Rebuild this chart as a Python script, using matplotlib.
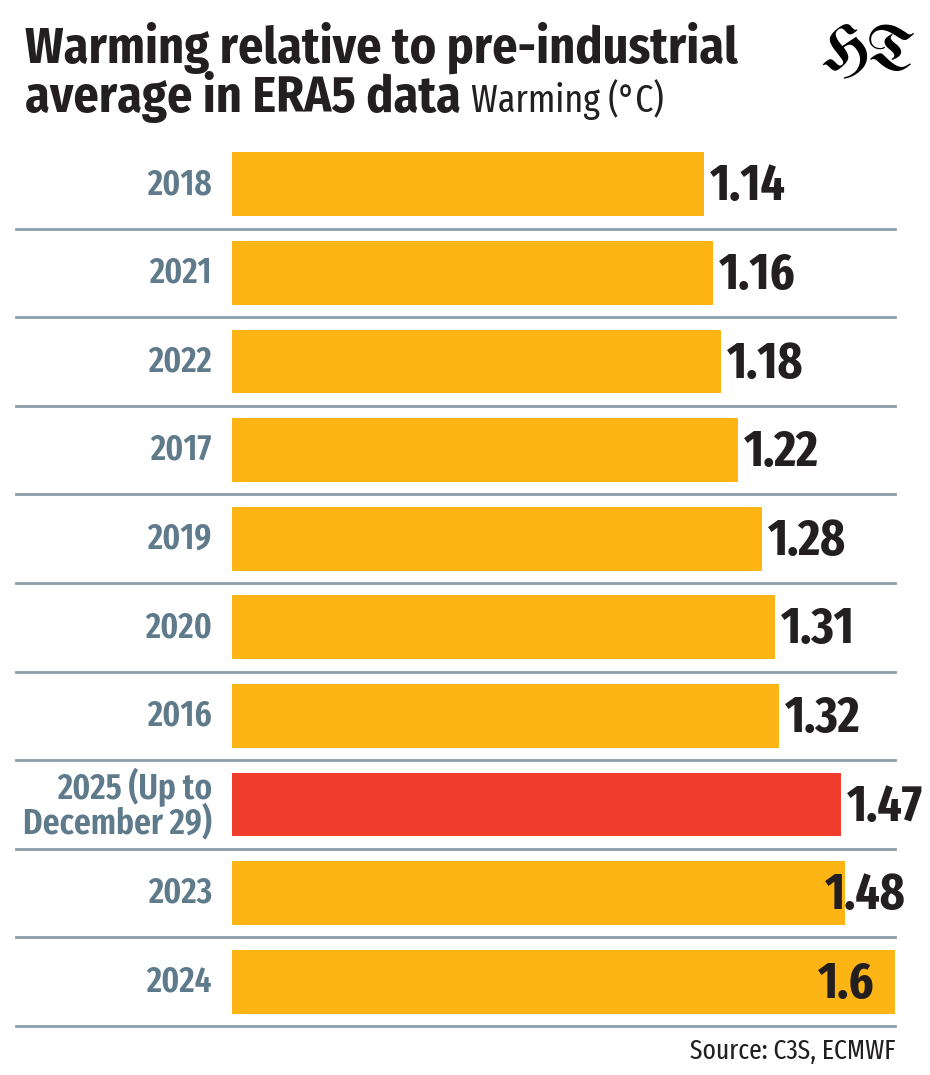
import matplotlib
matplotlib.use("Agg")
import matplotlib.pyplot as plt
from matplotlib.transforms import blended_transform_factory

# data, top to bottom
years = ["2018", "2021", "2022", "2017", "2019", "2020", "2016",
         "2025 (Up to\nDecember 29)", "2023", "2024"]
warming = [1.14, 1.16, 1.18, 1.22, 1.28, 1.31, 1.32, 1.47, 1.48, 1.6]
highlight = "2025 (Up to\nDecember 29)"

YELLOW = "#FDB515"
RED = "#EE3D2A"
GRID = "#8C9EAA"
LABEL = "#5E7A8B"
DARK = "#231F20"
COND = ["Fira Sans Condensed", "DejaVu Sans"]
XCOND = ["Fira Sans Extra Condensed", "DejaVu Sans"]

W, H = 930, 1075
fig = plt.figure(figsize=(W / 100, H / 100), dpi=100)
fig.patch.set_facecolor("white")

# axes box in pixels: left 232, right 895, top 140, bottom 1026
ax = fig.add_axes([232 / W, 1 - 1026 / H, (895 - 232) / W, (1026 - 140) / H])
ax.set_xlim(0, 1.6)
ax.set_ylim(len(years) - 0.5, -0.5)
ax.axis("off")

colors = [RED if y == highlight else YELLOW for y in years]
ax.barh(range(len(years)), warming, height=0.72, color=colors, zorder=2)

# separators spanning from the label column to the right edge
tr = blended_transform_factory(fig.transFigure, ax.transData)
for i in range(len(years)):
    ax.plot([16 / W, 895 / W], [i + 0.5, i + 0.5], transform=tr, color=GRID,
            lw=2, clip_on=False, zorder=1)

fig.canvas.draw()
rend = fig.canvas.get_renderer()
px = 1.6 / (895 - 232)  # data units per pixel
for i, (y, v) in enumerate(zip(years, warming)):
    ax.text(-20 * px, i, y, ha="right", va="center", fontsize=26,
            fontweight="semibold", color=LABEL, family=XCOND, linespacing=0.9)
    t = ax.text(v + 6 * px, i + 0.03, f"{v:g}", ha="left", va="center",
                fontsize=37, fontweight="bold", color=DARK, family=XCOND, zorder=3)
    bb = t.get_window_extent(rend)
    if v == max(warming):
        t.set_x(v - 20 * px)
        t.set_ha("right")
    elif bb.x1 > 927:
        t.set_x((906 - 232) * px)
        t.set_ha("right")

# title
fig.text(25 / W, 1 - 63 / H, "Warming relative to pre-industrial", ha="left",
         va="baseline", fontsize=36, fontweight="bold", color=DARK, family=COND)
t2 = fig.text(25 / W, 1 - 112 / H, "average in ERA5 data", ha="left",
              va="baseline", fontsize=36, fontweight="bold", color=DARK, family=COND)
bb = t2.get_window_extent(rend)
fig.text((bb.x1 + 10) / W, 1 - 112 / H, "Warming (°C)", ha="left", va="baseline",
         fontsize=28, color=DARK, family=XCOND)

# masthead
fig.text(869 / W, 1 - 70 / H, "HT", ha="center", va="baseline", fontsize=46,
         color="black", family=["UnifrakturMaguntia", "DejaVu Serif"])

fig.text(895 / W, 1 - 1059 / H, "Source: C3S, ECMWF", ha="right", va="baseline",
         fontsize=20, color=DARK, family=XCOND)

fig.savefig("out.png", dpi=100, facecolor="white")
